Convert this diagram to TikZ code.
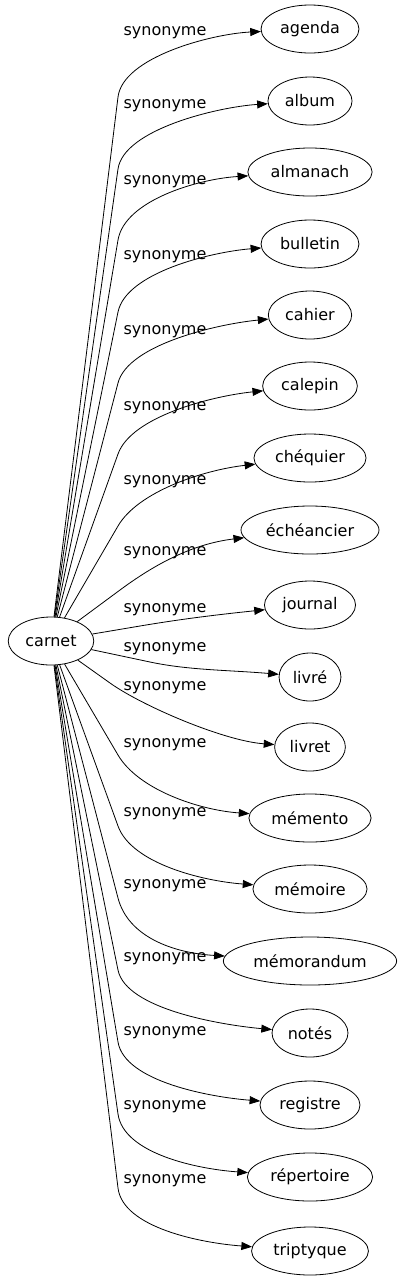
\documentclass[tikz,border=0pt]{standalone}
\usepackage{fontspec}
\setmainfont{DejaVu Sans}
\usetikzlibrary{arrows.meta,calc,shapes.geometric}

\begin{document}
\begin{tikzpicture}[x=0.75pt, y=-0.75pt,
  every node/.style={font=\fontsize{12}{14}\selectfont},
  word/.style={draw, ellipse, line width=0.6pt, inner xsep=3.5pt, inner ysep=2pt, minimum height=36pt},
  lbl/.style={inner sep=0pt},
  rel/.style={line width=0.6pt, -{Triangle[length=8pt,width=6pt]}}]
  \useasboundingbox (0,0) rectangle (402,1283);
  % source word
  \node[word] (carnet) at (51,641) {carnet};
  % synonyms, one column on the right
  \foreach \n/\t/\y in {agenda/agenda/29, album/album/101, almanach/almanach/172,
      bulletin/bulletin/244, cahier/cahier/315, calepin/calepin/386,
      chequier/chéquier/458, echeancier/échéancier/530, journal/journal/605,
      livre/livré/677, livret/livret/747, memento/mémento/818,
      memoire/mémoire/889, memorandum/mémorandum/961, notes/notés/1033,
      registre/registre/1105, repertoire/répertoire/1177, triptyque/triptyque/1251}
    \node[word] (\n) at (310,\y) {\t};
  % edges: straight run to a bend, then a curve into the target
  \foreach \n/\bx/\by/\dy/\ly in {agenda/118/97/5/33, album/118/169/6/106,
      almanach/118/240/7/182, bulletin/118/312/8/257, cahier/118/383/9/332,
      calepin/118/454/10/408, chequier/118/526/12/482, echeancier/120/590/14/553,
      journal/140/626/10/610, livre/150/662/-7/649, livret/110/683/-6/688,
      memento/118/755/-8/745, memoire/118/826/-8/814, memorandum/118/898/-8/886,
      notes/118/970/-8/959, registre/118/1042/-8/1033, repertoire/118/1114/-8/1107,
      triptyque/118/1188/-8/1181} {
    \draw[rel] (carnet) -- (\bx,\by)
      .. controls ($(\bx,\by)!-30pt!(carnet)$) and ($(\n.west)+(-50,\dy)$) .. (\n);
    \node[lbl] (l-\n) at (165,\ly) {synonyme};
  }
\end{tikzpicture}
\end{document}
